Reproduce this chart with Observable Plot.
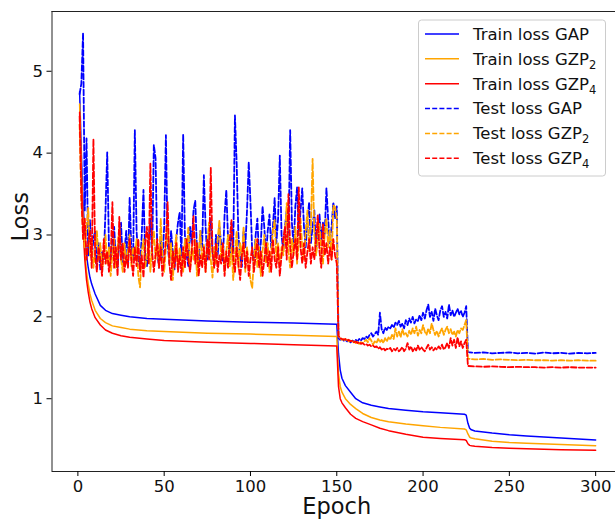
<!DOCTYPE html>
<html><head><meta charset="utf-8">
<script src="https://cdn.jsdelivr.net/npm/d3@7"></script>
<script src="https://cdn.jsdelivr.net/npm/@observablehq/plot@0.6"></script>
<style>body{margin:0;background:#fff;} svg{display:block;}</style>
</head><body><div id="chart"></div>
<script>
const xTicks = [0, 50, 100, 150, 200, 250, 300];
const yTicks = [1, 2, 3, 4, 5];
const xDomain = [-15, 311.5];
const yDomain = [0.111, 5.73];

const trainEpochs = [1,2,3,4,5,6,7,8,10,13,16,20,25,30,40,50,75,100,125,150,
  151,152,153,155,158,161,165,170,175,180,190,200,210,224,225,226,227,228,230,240,250,260,280,300];
const trainGAP = [4.75,4.0,3.4,3.0,2.75,2.6,2.48,2.4,2.28,2.14,2.08,2.04,2.02,2.0,1.98,1.97,1.95,1.935,1.925,1.91,
  1.55,1.35,1.25,1.16,1.08,1.0,0.95,0.92,0.9,0.88,0.86,0.84,0.83,0.81,0.80,0.70,0.64,0.62,0.605,0.58,0.56,0.545,0.52,0.495];
const trainGZP2 = [4.6,3.8,3.2,2.8,2.55,2.4,2.28,2.2,2.08,1.98,1.93,1.89,1.87,1.85,1.83,1.82,1.80,1.79,1.775,1.76,
  1.3,1.15,1.08,1.0,0.93,0.88,0.82,0.77,0.74,0.72,0.69,0.67,0.65,0.63,0.62,0.57,0.53,0.52,0.51,0.48,0.465,0.455,0.44,0.425];
const trainGZP4 = [4.5,3.7,3.1,2.7,2.45,2.3,2.18,2.1,1.99,1.9,1.84,1.8,1.77,1.75,1.73,1.71,1.69,1.675,1.66,1.645,
  1.15,1.0,0.95,0.89,0.81,0.76,0.72,0.68,0.64,0.61,0.565,0.528,0.515,0.50,0.49,0.45,0.43,0.425,0.42,0.405,0.395,0.388,0.378,0.37];

// test loss, epochs 1..225 then tail epochs
const tailEpochs = [226,230,235,240,245,250,255,260,265,270,275,280,285,290,295,300];
const testGAP = [
 4.72,4.85,5.47,3.30,4.18,2.75,3.18,2.72,2.95,3.05,
 2.62,2.90,2.58,2.80,2.70,3.30,4.01,2.85,2.65,2.95,
 3.10,2.70,2.60,2.92,3.15,2.65,2.80,3.05,2.62,3.46,
 2.80,2.70,4.28,3.05,2.72,2.60,3.00,3.55,2.75,2.62,
 2.90,3.20,2.70,4.10,3.94,2.80,2.60,2.95,2.70,3.10,
 4.22,2.90,2.65,3.05,2.80,2.58,2.95,3.15,3.28,2.70,
 4.23,3.00,2.75,2.62,3.10,2.90,3.30,3.42,2.80,2.65,
 3.05,2.85,3.73,3.10,2.70,2.95,3.20,2.80,2.62,3.00,
 2.75,3.10,2.90,2.68,3.25,3.55,2.95,2.70,3.15,2.80,
 4.46,3.87,3.00,2.75,2.61,3.05,2.85,3.30,3.89,3.40,
 2.80,2.65,3.00,3.20,2.72,2.90,3.35,3.10,2.75,3.05,
 3.25,2.85,3.10,3.45,2.90,3.20,3.97,3.00,2.80,3.10,
 3.30,2.95,4.28,3.15,2.85,3.35,3.58,3.00,3.30,3.57,
 3.10,2.85,3.20,3.40,2.90,3.10,3.30,2.80,3.05,3.25,
 2.95,3.15,3.00,3.57,3.20,2.90,3.10,3.40,3.20,3.35,
 1.74,1.72,1.73,1.71,1.72,1.70,1.71,1.69,1.71,1.70,
 1.72,1.70,1.73,1.71,1.74,1.73,1.76,1.74,1.78,1.80,
 1.76,1.79,1.82,1.78,2.05,1.85,1.80,1.87,1.84,1.88,
 1.86,1.90,1.87,1.93,1.90,1.95,1.88,1.92,1.86,1.96,
 1.90,1.98,1.93,2.00,1.92,1.97,1.95,2.02,1.96,2.05,
 1.98,2.08,2.15,2.00,2.06,1.95,2.10,2.02,1.96,2.08,
 2.13,2.00,2.06,1.98,2.15,2.02,2.08,2.00,2.05,2.10,
 2.03,2.07,2.00,2.05,2.13];
const testGAPTail = [1.57,1.56,1.565,1.555,1.56,1.565,1.555,1.56,1.55,1.565,1.555,1.56,1.55,1.56,1.555,1.56];

const testGZP2 = [
 4.35,3.40,3.05,2.85,3.10,3.33,2.75,2.95,2.60,2.80,
 3.05,2.70,2.90,2.55,2.75,3.00,2.65,2.85,2.50,2.78,
 2.95,2.60,2.85,3.10,2.70,2.55,2.90,2.65,2.80,3.00,
 2.62,2.85,2.70,2.95,2.50,2.36,2.80,2.95,2.60,2.75,
 2.95,2.55,2.85,3.05,2.70,2.90,2.60,3.20,2.75,2.55,
 2.85,3.10,2.65,2.90,2.45,2.80,3.00,2.60,2.85,2.70,
 2.55,2.95,2.75,3.10,2.60,2.85,2.70,2.95,2.50,2.80,
 3.05,2.65,2.88,2.55,2.90,3.15,2.70,2.48,2.85,2.65,
 2.95,3.18,2.70,2.90,2.55,2.80,3.00,2.62,2.85,2.45,
 2.78,3.05,2.60,2.90,2.70,3.10,2.55,2.85,2.65,2.45,
 2.35,2.70,2.95,2.60,2.85,2.50,2.80,3.00,2.65,2.90,
 2.55,2.80,3.05,3.18,2.70,2.90,2.60,2.85,2.75,3.00,
 3.39,2.80,2.60,2.95,2.75,3.10,2.65,2.90,3.20,2.85,
 2.70,3.05,3.30,2.80,3.10,3.93,3.00,2.75,2.95,3.15,
 2.80,2.65,3.00,3.20,2.85,3.05,2.70,3.36,3.34,3.20,
 1.76,1.74,1.72,1.73,1.71,1.72,1.70,1.71,1.69,1.70,
 1.68,1.70,1.67,1.69,1.68,1.70,1.72,1.69,1.74,1.71,
 1.66,1.70,1.68,1.73,1.69,1.72,1.68,1.74,1.70,1.75,
 1.72,1.78,1.73,1.86,1.76,1.82,1.75,1.85,1.78,1.80,
 1.76,1.83,1.78,1.86,1.80,1.88,1.77,1.84,1.80,1.90,
 1.82,1.78,1.86,1.80,1.92,1.84,1.78,1.83,1.76,1.82,
 1.86,1.78,1.84,1.88,1.80,1.85,1.78,1.82,1.76,1.84,
 1.80,1.86,1.84,1.90,1.96];
const testGZP2Tail = [1.49,1.48,1.485,1.475,1.48,1.475,1.47,1.475,1.47,1.47,1.465,1.47,1.465,1.47,1.465,1.465];

const testGZP4 = [
 4.45,3.50,2.95,3.20,2.70,2.90,3.05,2.60,4.17,2.75,
 2.55,2.85,2.70,2.50,2.95,2.65,2.80,2.55,2.70,3.40,
 2.60,2.85,2.50,3.22,2.70,2.90,2.55,2.75,2.60,2.95,
 2.70,2.50,2.85,2.62,2.95,2.55,2.75,2.48,2.90,3.10,
 2.65,3.87,2.80,2.55,2.75,2.95,2.60,2.85,2.50,2.70,
 2.95,3.40,2.65,2.45,2.80,2.60,2.90,2.55,2.75,2.50,
 2.85,2.60,2.95,2.70,2.55,2.80,3.24,2.65,2.90,2.50,
 2.75,2.60,2.85,2.55,2.95,2.70,3.82,2.80,2.60,2.90,
 2.55,2.75,2.65,2.90,2.50,2.80,2.60,2.95,3.18,2.70,
 2.55,2.85,2.65,2.45,2.75,2.90,2.60,2.80,2.50,2.70,
 2.85,2.55,2.75,2.95,2.60,2.80,2.50,2.70,2.90,2.62,
 2.80,2.55,2.95,2.70,2.60,2.85,2.50,2.75,2.95,3.10,
 2.70,3.50,2.85,2.60,2.80,2.95,2.70,3.58,2.85,2.65,
 2.90,2.60,2.80,2.95,2.65,2.85,2.70,2.95,3.24,2.80,
 2.60,3.14,2.75,2.90,2.65,2.85,2.70,2.95,2.75,2.65,
 1.77,1.74,1.73,1.72,1.73,1.71,1.72,1.70,1.71,1.69,
 1.70,1.68,1.69,1.67,1.68,1.66,1.67,1.65,1.66,1.64,
 1.65,1.63,1.64,1.61,1.63,1.60,1.62,1.59,1.61,1.60,
 1.62,1.58,1.61,1.59,1.62,1.58,1.60,1.63,1.58,1.61,
 1.68,1.60,1.64,1.58,1.62,1.59,1.65,1.60,1.63,1.60,
 1.58,1.62,1.66,1.60,1.63,1.59,1.62,1.60,1.64,1.61,
 1.66,1.60,1.63,1.68,1.62,1.74,1.65,1.72,1.62,1.75,
 1.64,1.70,1.62,1.68,1.72];
const testGZP4Tail = [1.40,1.395,1.39,1.395,1.39,1.385,1.39,1.385,1.385,1.38,1.385,1.38,1.385,1.38,1.38,1.38];

const seriesNames = ["Train loss GAP","Train loss GZP2","Train loss GZP4","Test loss GAP","Test loss GZP2","Test loss GZP4"];
const seriesColors = ["blue","orange","red","blue","orange","red"];

const trainRows = (vals) => trainEpochs.map((e, i) => ({epoch: e, loss: vals[i]}));
const testRows = (vals, tail) => vals.map((v, i) => ({epoch: i + 1, loss: v}))
  .concat(tailEpochs.map((e, i) => ({epoch: e, loss: tail[i]})));

const dash = "5.5,2.4";
const chart = Plot.plot({
  width: 615, height: 519,
  marginLeft: 51.5, marginRight: 0, marginTop: 11, marginBottom: 48,
  style: {fontFamily: "DejaVu Sans", fontSize: "16.5px", color: "black", background: "white"},
  x: {domain: xDomain},
  y: {domain: yDomain},
  marks: [
    Plot.line(trainRows(trainGAP), {x: "epoch", y: "loss", stroke: seriesColors[0], strokeWidth: 1.5}),
    Plot.line(trainRows(trainGZP2), {x: "epoch", y: "loss", stroke: seriesColors[1], strokeWidth: 1.5}),
    Plot.line(trainRows(trainGZP4), {x: "epoch", y: "loss", stroke: seriesColors[2], strokeWidth: 1.5}),
    Plot.line(testRows(testGAP, testGAPTail), {x: "epoch", y: "loss", stroke: seriesColors[3], strokeWidth: 1.8, strokeDasharray: dash}),
    Plot.line(testRows(testGZP2, testGZP2Tail), {x: "epoch", y: "loss", stroke: seriesColors[4], strokeWidth: 1.8, strokeDasharray: dash}),
    Plot.line(testRows(testGZP4, testGZP4Tail), {x: "epoch", y: "loss", stroke: seriesColors[5], strokeWidth: 1.8, strokeDasharray: dash}),
    Plot.ruleX([xDomain[0]], {stroke: "#222", strokeWidth: 1}),
    Plot.ruleY([yDomain[0]], {stroke: "#222", strokeWidth: 1}),
    Plot.ruleY([yDomain[1]], {stroke: "#222", strokeWidth: 1}),
    Plot.axisX({ticks: xTicks, tickFormat: d3.format("d"), tickSize: 5, tickPadding: 4, label: null, fill: "#111"}),
    Plot.axisY({ticks: yTicks, tickFormat: d3.format("d"), tickSize: 5, tickPadding: 4, label: null, fill: "#111"}),
    Plot.text(["Epoch"], {frameAnchor: "bottom", dx: 3, dy: 42, fontSize: 22.5, fill: "#111"}),
    Plot.text(["Loss"], {frameAnchor: "left", rotate: -90, dx: -31, fontSize: 22.5, fill: "#111"})
  ]
});

// legend
const svg = d3.select(chart);
const lg = svg.append("g").attr("font-family", "DejaVu Sans").attr("font-size", "16.5px").attr("text-anchor", "start");
lg.append("rect").attr("x", 418.5).attr("y", 20).attr("width", 187).attr("height", 156)
  .attr("rx", 3).attr("fill", "white").attr("fill-opacity", 0.8).attr("stroke", "#cccccc").attr("stroke-width", 1);
seriesNames.forEach((name, i) => {
  const cy = 34 + i * 24.85;
  lg.append("line").attr("x1", 425).attr("x2", 459).attr("y1", cy).attr("y2", cy)
    .attr("stroke", seriesColors[i]).attr("stroke-width", 1.5)
    .attr("stroke-dasharray", i >= 3 ? "5,2.2" : null);
  const m = name.match(/^(.*GZP)(\d)$/);
  const t = lg.append("text").attr("x", 473).attr("y", cy).attr("dy", "0.36em").attr("fill", "#111").attr("text-anchor", "start");
  if (m) {
    t.append("tspan").text(m[1]);
    t.append("tspan").text(m[2]).attr("font-size", "11.5px").attr("dy", "4");
  } else {
    t.text(name);
  }
});

document.getElementById("chart").appendChild(chart);
</script>
</body></html>
